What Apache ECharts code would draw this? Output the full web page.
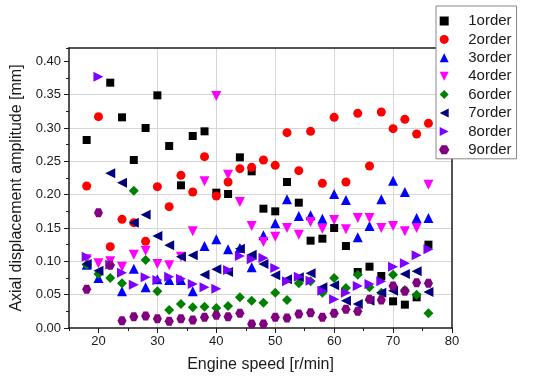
<!DOCTYPE html>
<html>
<head>
<meta charset="utf-8">
<script src="https://cdn.jsdelivr.net/npm/echarts@6/dist/echarts.min.js"></script>
<style>
  html, body { margin: 0; padding: 0; background: #fff; }
  #chart { width: 536px; height: 378px; }
</style>
</head>
<body>
<div id="chart"></div>
<script>
// Engine speed samples [r/min]
const speed = [18, 20, 22, 24, 26, 28, 30, 32, 34, 36, 38, 40, 42, 44, 46, 48, 50, 52, 54, 56, 58, 60, 62, 64, 66, 68, 70, 72, 74, 76];

// Axial displacement amplitude [mm] per order (null = no sample)
const order1 = [0.282, null, 0.368, 0.316, 0.252, 0.300, 0.349, 0.273, 0.214, 0.288, 0.295, 0.203, 0.201, 0.256, 0.235, 0.179, 0.175, 0.219, 0.188, 0.131, 0.134, 0.150, 0.123, 0.084, 0.092, 0.078, 0.040, 0.035, 0.046, 0.125];
const order2 = [0.213, 0.317, 0.122, 0.163, 0.158, 0.130, 0.212, 0.182, 0.229, 0.204, 0.257, 0.198, 0.219, 0.239, 0.241, 0.252, 0.244, 0.293, 0.236, 0.295, 0.217, 0.316, 0.219, 0.322, 0.243, 0.324, 0.299, 0.313, 0.291, 0.307];
const order3 = [0.095, 0.075, null, 0.055, 0.089, 0.061, 0.073, 0.072, 0.072, 0.055, 0.123, 0.133, 0.118, 0.120, 0.091, 0.139, 0.157, 0.193, 0.168, 0.169, 0.164, 0.201, 0.192, 0.136, 0.153, 0.193, 0.221, 0.204, 0.165, 0.165];
const order4 = [0.103, 0.097, 0.100, 0.092, 0.110, 0.116, 0.096, 0.094, 0.107, 0.145, 0.220, 0.348, 0.230, 0.189, 0.153, 0.129, 0.137, 0.150, 0.140, 0.159, 0.149, 0.162, 0.148, 0.165, 0.165, 0.150, 0.153, 0.145, 0.150, 0.215];
const order6 = [0.095, 0.081, 0.075, 0.067, 0.206, 0.102, 0.055, 0.027, 0.036, 0.031, 0.032, 0.030, 0.033, 0.046, 0.041, 0.038, 0.053, 0.042, 0.067, 0.070, 0.053, 0.075, 0.060, 0.080, 0.061, 0.053, 0.080, 0.057, 0.050, 0.022];
const order7 = [0.096, 0.086, 0.232, 0.218, 0.158, 0.170, 0.138, 0.124, 0.107, 0.109, 0.080, 0.088, 0.084, 0.119, 0.110, 0.096, 0.079, 0.073, 0.076, 0.082, 0.061, 0.064, 0.041, 0.036, 0.041, 0.053, 0.056, 0.081, 0.085, 0.054];
const order8 = [0.107, 0.377, 0.095, 0.083, 0.065, 0.076, 0.072, 0.077, 0.074, 0.066, 0.061, 0.059, 0.087, 0.108, 0.103, 0.105, 0.090, 0.070, 0.077, 0.071, 0.056, 0.043, 0.053, 0.063, 0.066, 0.070, 0.092, 0.097, 0.109, 0.118];
const order9 = [0.058, 0.173, 0.094, 0.011, 0.017, 0.018, 0.014, 0.010, 0.014, 0.012, 0.016, 0.019, 0.017, 0.022, 0.006, 0.006, 0.016, 0.015, 0.021, 0.023, 0.016, 0.022, 0.028, 0.025, 0.043, 0.042, 0.063, 0.055, 0.068, 0.067];

// Tick labels
const xTicks = [20, 30, 40, 50, 60, 70, 80];
const yTicks = [0, 0.05, 0.10, 0.15, 0.20, 0.25, 0.30, 0.35, 0.40];

const FONT = '"Liberation Sans", Arial, sans-serif';
const INK = '#1a1a1a';

// Marker shapes (paths keep their proportions in the legend)
const SQUARE = 'path://M0,0 L2,0 L2,2 L0,2 Z';
const DIAMOND = 'path://M1,0 L2,1 L1,2 L0,1 Z';
const TRI_UP = 'path://M1,0 L2,2 L0,2 Z';
const TRI_DOWN = 'path://M0,0 L2,0 L1,2 Z';
const TRI_LEFT = 'path://M2,0 L2,2 L0,1 Z';
const TRI_RIGHT = 'path://M0,0 L0,2 L2,1 Z';
const HEXAGON = 'path://M0.5,0 L1.5,0 L2,0.866 L1.5,1.732 L0.5,1.732 L0,0.866 Z';

const seriesDefs = [
  { name: '1order', values: order1, color: '#000000', symbol: SQUARE, size: 8 },
  { name: '2order', values: order2, color: '#ff0000', symbol: 'circle', size: 9 },
  { name: '3order', values: order3, color: '#0000ff', symbol: TRI_UP, size: 10 },
  { name: '4order', values: order4, color: '#ff00ff', symbol: TRI_DOWN, size: 10 },
  { name: '6order', values: order6, color: '#008000', symbol: DIAMOND, size: 10 },
  { name: '7order', values: order7, color: '#000080', symbol: TRI_LEFT, size: 10 },
  { name: '8order', values: order8, color: '#8000ff', symbol: TRI_RIGHT, size: 10 },
  { name: '9order', values: order9, color: '#800080', symbol: HEXAGON, size: 9 }
];

const series = seriesDefs.map(d => ({
  name: d.name,
  type: 'scatter',
  xAxisIndex: 0,
  yAxisIndex: 0,
  symbol: d.symbol,
  symbolSize: d.size,
  itemStyle: { color: d.color, opacity: 1 },
  emphasis: { disabled: true },
  data: speed.map((x, i) => d.values[i] == null ? null : [x, d.values[i]]).filter(p => p !== null)
}));

const chart = echarts.init(document.getElementById('chart'), null, { renderer: 'canvas' });

chart.setOption({
  animation: false,
  backgroundColor: '#fff',
  grid: { left: 69, right: 84, top: 48, bottom: 48, containLabel: false },
  legend: {
    orient: 'vertical',
    left: 436,
    top: 6,
    backgroundColor: '#fff',
    borderColor: '#888',
    borderWidth: 1,
    padding: [7, 5, 1, 3],
    itemWidth: 38,
    itemHeight: 9,
    itemGap: 2.4,
    symbolKeepAspect: true,
    textStyle: { fontFamily: FONT, fontSize: 15, lineHeight: 16, color: INK },
    data: seriesDefs.map(d => d.name)
  },
  xAxis: [
    {
      type: 'value', min: 15, max: 80, position: 'bottom',
      name: 'Engine speed [r/min]', nameLocation: 'middle', nameGap: 29,
      nameTextStyle: { fontFamily: FONT, fontSize: 16, color: INK },
      axisLine: { show: true, onZero: false, lineStyle: { color: INK, width: 1.5 } },
      axisTick: { show: true, length: 5, customValues: xTicks, lineStyle: { color: INK, width: 1 } },
      axisLabel: { customValues: xTicks, fontFamily: FONT, fontSize: 13, color: INK, margin: 7 },
      splitLine: { show: true, showMinLine: false, showMaxLine: false, lineStyle: { color: '#d6d6d6', width: 1 } }
    },
    {
      type: 'value', min: 15, max: 80, interval: 5, position: 'bottom',
      axisLine: { show: false, onZero: false },
      axisTick: { show: true, length: 3, lineStyle: { color: INK, width: 1 } },
      axisLabel: { show: false },
      splitLine: { show: false }
    },
    {
      type: 'value', min: 15, max: 80, position: 'top',
      axisLine: { show: true, onZero: false, lineStyle: { color: INK, width: 1.5 } },
      axisTick: { show: false }, axisLabel: { show: false }, splitLine: { show: false }
    }
  ],
  yAxis: [
    {
      type: 'value', min: 0, max: 0.42, interval: 0.05, position: 'left',
      name: 'Axial displacement amplitude [mm]', nameLocation: 'middle', nameGap: 33,
      nameTextStyle: { fontFamily: FONT, fontSize: 16, color: INK },
      axisLine: { show: true, onZero: false, lineStyle: { color: INK, width: 1.5 } },
      axisTick: { show: true, length: 5, customValues: yTicks, lineStyle: { color: INK, width: 1 } },
      axisLabel: { customValues: yTicks, fontFamily: FONT, fontSize: 13, color: INK, margin: 8, formatter: v => v.toFixed(2) },
      splitLine: { show: true, showMinLine: false, showMaxLine: false, lineStyle: { color: '#d6d6d6', width: 1 } }
    },
    {
      type: 'value', min: 0, max: 0.42, interval: 0.025, position: 'left',
      axisLine: { show: false, onZero: false },
      axisTick: { show: true, length: 3, lineStyle: { color: INK, width: 1 } },
      axisLabel: { show: false },
      splitLine: { show: false }
    },
    {
      type: 'value', min: 0, max: 0.42, position: 'right',
      axisLine: { show: true, onZero: false, lineStyle: { color: INK, width: 1.5 } },
      axisTick: { show: false }, axisLabel: { show: false }, splitLine: { show: false }
    }
  ],
  series: series
});
</script>
</body>
</html>
